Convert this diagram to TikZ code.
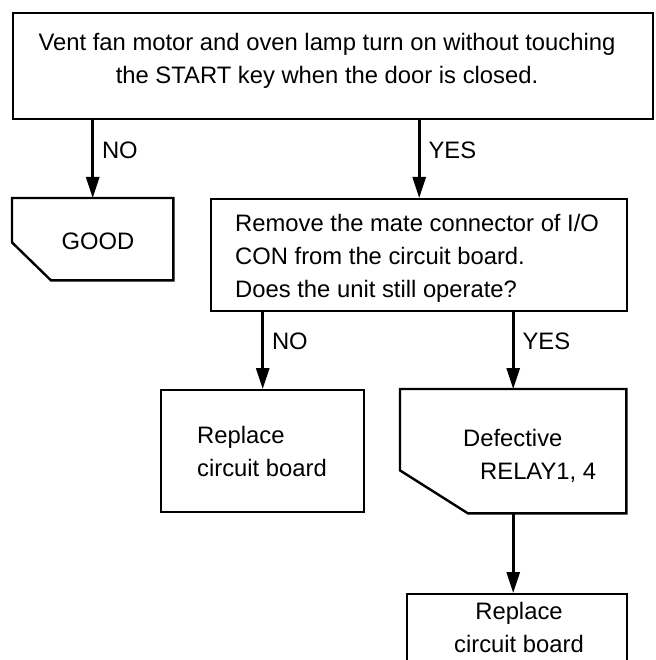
\documentclass[tikz,border=0pt]{standalone}
\usepackage{fontspec}
\setmainfont{Liberation Sans}
\usetikzlibrary{arrows.meta,positioning}
\begin{document}
\begin{tikzpicture}[
        x=1pt,
        y=-1pt,
        box/.style={
            draw,
            line width=2.4pt,
            inner sep=0pt,
            anchor=north west
          },
        hidbox/.style={
            inner sep=0pt,
            anchor=north west
          },
        arr/.style={
            line width=2.6pt,
            -{Triangle[length=21pt,width=13pt]}
          },
        txt/.style={
            font=\fontsize{23.8}{33}\selectfont,
            inner sep=0pt
          }]
        % Page
        \useasboundingbox (0,0) rectangle (655,660);

        % Boxes
        \node[box, minimum width=640, minimum height=106] (check) at (12,12) {};
        \node[hidbox, minimum width=161, minimum height=82] (good) at (12,198) {};
        \node[box, minimum width=416, minimum height=112] (test) at (210,198) {};
        \node[box, minimum width=203, minimum height=122] (repl) at (160,389) {};
        \node[hidbox, minimum width=226, minimum height=124] (defect) at (400,389) {};
        \node[box, minimum width=220, minimum height=90] (final) at (406,593) {};

        % Cut-corner outlines
        \draw[line width=2.4pt] (good.north west) -- (good.north east)
            -- (good.south east) -- ([xshift=39pt]good.south west)
            -- ([yshift=38pt]good.south west) -- cycle;
        \draw[line width=2.4pt] (defect.north west) -- (defect.north east)
            -- (defect.south east) -- ([xshift=68pt]defect.south west)
            -- ([yshift=43pt]defect.south west) -- cycle;

        % Texts
        \node[txt, align=center] (checktxt) at (327,61)
            {Vent fan motor and oven lamp turn on without touching\\
             the START key when the door is closed.};
        \node[txt] (goodtxt) at (98,241) {GOOD};
        \node[txt, align=left, anchor=west] (testtxt) at (235,258)
            {Remove the mate connector of I/O\\
             CON from the circuit board.\\
             Does the unit still operate?};
        \node[txt, align=left, anchor=west] (repltxt) at (197,451)
            {Replace\\circuit board};
        \node[txt, align=left, anchor=west] (defecttxt) at (463,456)
            {Defective\\\hspace*{17pt}RELAY1, 4};
        \node[txt, align=center] (finaltxt) at (519,627)
            {Replace\\circuit board};

        % Connectors
        \draw[arr] (check.south -| good.north) -- node[txt, right=8pt, pos=0.38] {NO} (good.north);
        \draw[arr] (check.south -| test.north) -- node[txt, right=8pt, pos=0.38] {YES} (test.north);
        \draw[arr] (test.south -| repl.north) -- node[txt, right=8pt, pos=0.38] {NO} (repl.north);
        \draw[arr] (test.south -| defect.north) -- node[txt, right=8pt, pos=0.38] {YES} (defect.north);
        \draw[arr] (defect.south) -- (defect.south |- final.north);
    \end{tikzpicture}
\end{document}
